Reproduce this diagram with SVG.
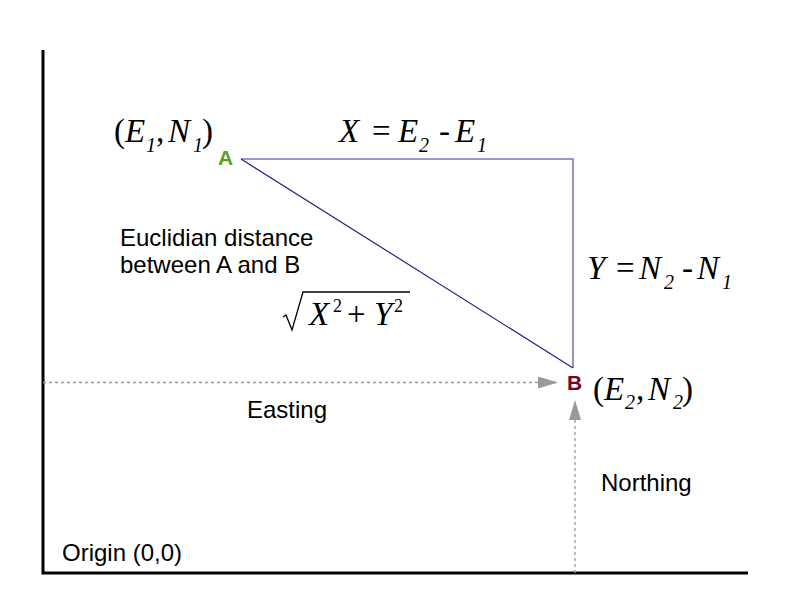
<svg xmlns="http://www.w3.org/2000/svg" width="800" height="600" viewBox="0 0 800 600">
<style>
.sans{font-family:"Liberation Sans",Arial,sans-serif;fill:#000;font-size:24px}
.math{font-family:"Liberation Serif","Times New Roman",serif;font-size:33px;fill:#000}
.it{font-style:italic}
.sub{font-size:20px;font-style:italic}
.sup{font-size:18px}
.pt{font-family:"Liberation Sans",Arial,sans-serif;font-size:21px;font-weight:bold}
.axis{stroke:#000;stroke-width:3;fill:none}
.side{stroke:#7878bc;stroke-width:1.6;fill:none}
.hyp{stroke:#22228e;stroke-width:1.2;fill:none}
.guide{stroke:#9a9a9a;stroke-width:1.3;stroke-dasharray:3 3;fill:none}
</style>
<defs>
<marker id="arr" viewBox="0 0 20 12" refX="20" refY="6" markerWidth="20" markerHeight="12" markerUnits="userSpaceOnUse" orient="auto">
<path d="M0,0 L20,6 L0,12 Z" fill="#9a9a9a"/>
</marker>
</defs>
<rect width="800" height="600" fill="#fff"/>
<g id="axes">
<path class="axis" d="M43,50 V573 H748"/>
</g>
<g id="connectors">
<path class="side" d="M241,159 H573 V368"/>
<path class="hyp" d="M241,159 L573,368"/>
<path class="guide" d="M43,382.5 H558" marker-end="url(#arr)"/>
<path class="guide" d="M575,573 V400" marker-end="url(#arr)"/>
</g>
<g id="nodeA">
<text class="pt" x="218" y="165" style="fill:#5a9e1a">A</text>
<text class="math" y="142"><tspan x="114">(</tspan><tspan class="it" x="125">E</tspan><tspan class="sub" x="146" y="152">1</tspan><tspan x="156" y="142">,</tspan><tspan class="it" x="168">N</tspan><tspan class="sub" x="193" y="152">1</tspan><tspan x="202" y="142">)</tspan></text>
</g>
<g id="nodeB">
<text class="pt" x="567" y="390" style="fill:#800020">B</text>
<text class="math" y="400"><tspan x="593">(</tspan><tspan class="it" x="604">E</tspan><tspan class="sub" x="625" y="409">2</tspan><tspan x="636" y="400">,</tspan><tspan class="it" x="648">N</tspan><tspan class="sub" x="673" y="409">2</tspan><tspan x="682" y="400">)</tspan></text>
</g>
<g id="labelX">
<text class="math" y="142"><tspan class="it" x="339">X</tspan><tspan x="372">=</tspan><tspan class="it" x="398">E</tspan><tspan class="sub" x="419" y="152">2</tspan><tspan x="439" y="142">-</tspan><tspan class="it" x="455">E</tspan><tspan class="sub" x="477" y="152">1</tspan></text>
</g>
<g id="labelY">
<text class="math" y="279"><tspan class="it" x="587">Y</tspan><tspan x="616">=</tspan><tspan class="it" x="639">N</tspan><tspan class="sub" x="664" y="289">2</tspan><tspan x="682" y="279">-</tspan><tspan class="it" x="697">N</tspan><tspan class="sub" x="722" y="289">1</tspan></text>
</g>
<g id="euclid">
<text class="sans" x="120" y="246">Euclidian distance</text>
<text class="sans" x="120" y="273">between A and B</text>
<path d="M283,317 L286,315 L292,330 L303,292 H410" stroke="#000" stroke-width="1.3" fill="none"/>
<text class="math" y="325"><tspan class="it" x="309">X</tspan><tspan class="sup" x="333" y="312">2</tspan><tspan x="347" y="325">+</tspan><tspan class="it" x="374">Y</tspan><tspan class="sup" x="394" y="312">2</tspan></text>
</g>
<g id="labels">
<text class="sans" x="247" y="418">Easting</text>
<text class="sans" x="601" y="491">Northing</text>
<text class="sans" x="62" y="561">Origin (0,0)</text>
</g>
</svg>
